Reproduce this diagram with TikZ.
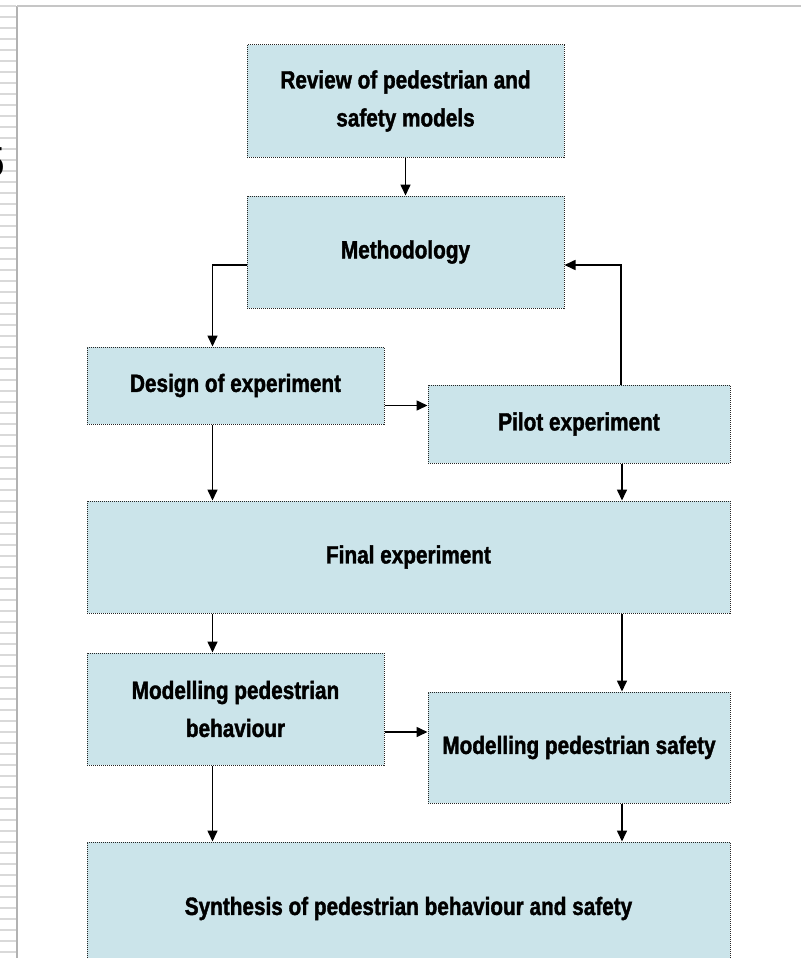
\documentclass[tikz,border=0pt]{standalone}
\usepackage{fontspec}
\setmainfont[FakeStretch=0.83,BoldFeatures={FakeBold=1.5}]{Liberation Sans}
\usepackage{xcolor}
\usetikzlibrary{arrows.meta}

\definecolor{boxblue}{RGB}{203,228,234}

\begin{document}
\begin{tikzpicture}[x=1pt,y=-1pt,
    blk/.style={draw=black!85,densely dotted,line width=1pt,fill=boxblue,
        inner sep=0pt,align=center,font=\fontsize{25}{38}\selectfont\bfseries},
    arr/.style={line width=1.6pt,-{Triangle[length=11pt,width=10pt]}}]
        \clip (0,0) rectangle (801,958);
        \fill[white] (0,0) rectangle (801,958);

        % slide border
        \foreach \y in {6,17,...,958}
            \draw[gray!30,line width=2pt] (0,\y) -- (16,\y);
        \draw[gray!60,line width=1.5pt] (17,6) -- (17,958);
        \draw[gray!45,line width=1.5pt] (17,6) -- (801,6);
        \node[anchor=east,inner sep=0pt,font=\fontsize{42}{42}\selectfont] (five) at (5,162) {5};

        \node[blk,minimum width=317pt,minimum height=112pt] (review) at (405.5,101) {Review of pedestrian and\\safety models};
        \node[blk,minimum width=317pt,minimum height=112pt] (meth) at (405.5,252) {Methodology};
        \node[blk,minimum width=297pt,minimum height=77pt] (design) at (235.5,385.5) {Design of experiment};
        \node[blk,minimum width=302pt,minimum height=78pt] (pilot) at (579,424) {Pilot experiment};
        \node[blk,minimum width=643pt,minimum height=112pt] (final) at (408.5,557) {Final experiment};
        \node[blk,minimum width=297pt,minimum height=112pt] (behav) at (235.5,709) {Modelling pedestrian\\behaviour};
        \node[blk,minimum width=302pt,minimum height=111pt] (safety) at (579,747.5) {Modelling pedestrian safety};
        \node[blk,minimum width=643pt,minimum height=133pt] (synth) at (408.5,908.5) {Synthesis of pedestrian behaviour and safety};

        \draw[arr] (review.south) -- (meth.north);
        \draw[arr] ([yshift=-13pt]meth.west) -| ([xshift=-23pt]design.north);
        \draw[arr] ([yshift=-20pt]design.east) -- ([yshift=-20pt]design.east -| pilot.west);
        \draw[arr] ([xshift=42pt]pilot.north) |- ([yshift=-13pt]meth.east);
        \draw[arr] ([xshift=-23pt]design.south) -- ([xshift=-23pt]design.south |- final.north);
        \draw[arr] ([xshift=43pt]pilot.south) -- ([xshift=43pt]pilot.south |- final.north);
        \draw[arr] ([xshift=-23pt]behav.north |- final.south) -- ([xshift=-23pt]behav.north);
        \draw[arr] ([xshift=43pt]safety.north |- final.south) -- ([xshift=43pt]safety.north);
        \draw[arr] ([yshift=-23pt]behav.east) -- ([yshift=-23pt]behav.east -| safety.west);
        \draw[arr] ([xshift=-23pt]behav.south) -- ([xshift=-23pt]behav.south |- synth.north);
        \draw[arr] ([xshift=43pt]safety.south) -- ([xshift=43pt]safety.south |- synth.north);
    \end{tikzpicture}
\end{document}
